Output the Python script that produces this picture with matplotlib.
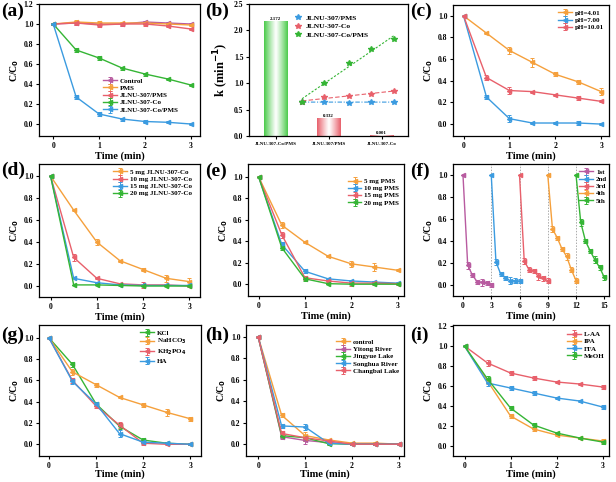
import numpy as np
import matplotlib
matplotlib.use("Agg")
import matplotlib.pyplot as plt
from matplotlib.colors import to_rgb

plt.rcParams['font.family'] = ['Liberation Serif', 'DejaVu Serif']
plt.rcParams['font.weight'] = 'bold'
plt.rcParams['axes.labelweight'] = 'bold'

ORANGE = '#F5A03C'
BLUE = '#3B9BE0'
RED = '#E8606B'
GREEN = '#35B535'
PURPLE = '#B85BA0'

t = [0, 0.5, 1, 1.5, 2, 2.5, 3]

# (a)
a_labels = ['Control', 'PMS', 'JLNU-307/PMS', 'JLNU-307-Co', 'JLNU-307-Co/PMS']
a_control = [1.0, 1.01, 1.00, 1.00, 1.02, 1.01, 1.00]
a_pms = [1.0, 1.02, 1.01, 1.01, 1.01, 1.00, 0.99]
a_307pms = [1.0, 1.01, 0.99, 1.00, 1.00, 0.98, 0.95]
a_307co = [1.0, 0.74, 0.66, 0.56, 0.50, 0.45, 0.39]
a_307copms = [1.0, 0.27, 0.10, 0.05, 0.025, 0.017, 0.0]
a_err = [0.01, 0.02, 0.02, 0.015, 0.015, 0.01, 0.01]

# (b)
b_cats = ['JLNU-307-Co/PMS', 'JLNU-307/PMS', 'JLNU-307-Co']
b_k = [2.172, 0.332, 0.001]
b_klabels = ['2.172', '0.332', '0.001']
b_x = [0.5, 0.92, 1.38, 1.8, 2.23]
b_307pms = [0.65, 0.64, 0.63, 0.64, 0.65]
b_307co = [0.65, 0.73, 0.76, 0.80, 0.85]
b_307copms = [0.65, 1.01, 1.38, 1.64, 1.83]
b_series = ['JLNU-307/PMS', 'JLNU-307-Co', 'JLNU-307-Co/PMS']

# (c)
c_labels = ['pH=4.01', 'pH=7.00', 'pH=10.01']
c_401 = [1.0, 0.84, 0.68, 0.57, 0.46, 0.39, 0.30]
c_700 = [1.0, 0.25, 0.05, 0.01, 0.01, 0.01, 0.0]
c_1001 = [1.0, 0.43, 0.31, 0.30, 0.27, 0.24, 0.21]
c_err401 = [0.0, 0.01, 0.03, 0.04, 0.02, 0.02, 0.03]
c_err700 = [0.0, 0.02, 0.03, 0.01, 0.01, 0.02, 0.01]
c_err1001 = [0.0, 0.02, 0.03, 0.01, 0.01, 0.02, 0.01]

# (d)
d_labels = ['5 mg JLNU-307-Co', '10 mg JLNU-307-Co', '15 mg JLNU-307-Co', '20 mg JLNU-307-Co']
d_5 = [1.0, 0.69, 0.40, 0.23, 0.15, 0.07, 0.04]
d_10 = [1.0, 0.26, 0.07, 0.02, 0.01, 0.01, 0.0]
d_15 = [1.0, 0.07, 0.03, 0.01, 0.005, 0.005, 0.005]
d_20 = [1.0, 0.01, 0.01, 0.005, 0.0, 0.0, 0.0]
d_err5 = [0.0, 0.01, 0.03, 0.01, 0.01, 0.03, 0.03]
d_err10 = [0.0, 0.03, 0.01, 0.01, 0.03, 0.01, 0.01]
d_err15 = [0.0, 0.0, 0.0, 0.0, 0.0, 0.0, 0.0]
d_err20 = [0.0, 0.0, 0.0, 0.0, 0.0, 0.0, 0.0]

# (e)
e_labels = ['5 mg PMS', '10 mg PMS', '15 mg PMS', '20 mg PMS']
e_5 = [1.0, 0.55, 0.39, 0.26, 0.19, 0.16, 0.13]
e_10 = [1.0, 0.37, 0.12, 0.05, 0.03, 0.02, 0.01]
e_15 = [1.0, 0.46, 0.06, 0.03, 0.01, 0.01, 0.005]
e_20 = [1.0, 0.34, 0.05, 0.005, 0.0, 0.0, 0.0]
e_err5 = [0.0, 0.03, 0.01, 0.01, 0.03, 0.04, 0.01]
e_err10 = [0.0, 0.02, 0.02, 0.01, 0.01, 0.01, 0.01]
e_err15 = [0.0, 0.03, 0.02, 0.01, 0.03, 0.02, 0.01]
e_err20 = [0.0, 0.02, 0.02, 0.0, 0.0, 0.0, 0.0]

# (f)
f_labels = ['1st', '2nd', '3rd', '4th', '5th']
f_t1 = [0, 0.5, 1, 1.5, 2, 2.5, 3]
f_t2 = [3, 3.5, 4, 4.5, 5, 5.5, 6]
f_t3 = [6, 6.5, 7, 7.5, 8, 8.5, 9]
f_t4 = [9, 9.5, 10, 10.5, 11, 11.5, 12]
f_t5 = [12, 12.5, 13, 13.5, 14, 14.5, 15]
f_1 = [1.0, 0.18, 0.09, 0.03, 0.025, 0.02, 0.0]
f_2 = [1.0, 0.21, 0.10, 0.065, 0.04, 0.04, 0.035]
f_3 = [1.0, 0.22, 0.14, 0.13, 0.08, 0.06, 0.04]
f_4 = [1.0, 0.51, 0.43, 0.33, 0.26, 0.14, 0.04]
f_5 = [1.0, 0.57, 0.40, 0.31, 0.23, 0.16, 0.07]
f_err = [0.0, 0.03, 0.02, 0.02, 0.03, 0.02, 0.02]
f_cycles = [3, 6, 9, 12]

# (g)
g_labels = ['KCl', 'NaHCO$_3$', 'KH$_2$PO$_4$', 'HA']
g_kcl = [1.0, 0.75, 0.38, 0.17, 0.04, 0.01, 0.0]
g_nahco3 = [1.0, 0.68, 0.56, 0.44, 0.37, 0.30, 0.24]
g_kh2po4 = [1.0, 0.60, 0.36, 0.18, 0.01, 0.0, 0.0]
g_ha = [1.0, 0.59, 0.38, 0.10, 0.02, 0.01, 0.0]
g_err_na = [0.0, 0.03, 0.02, 0.01, 0.02, 0.03, 0.02]
g_err = [0.0, 0.02, 0.02, 0.03, 0.02, 0.01, 0.01]

# (h)
h_labels = ['control', 'Yitong River', 'Jingyue Lake', 'Songhua River', 'Changbai Lake']
h_control = [1.0, 0.27, 0.08, 0.04, 0.01, 0.01, 0.0]
h_yitong = [1.0, 0.07, 0.035, 0.015, 0.0, 0.0, 0.0]
h_jingyue = [1.0, 0.08, 0.06, 0.005, 0.0, 0.0, 0.0]
h_songhua = [1.0, 0.17, 0.16, 0.01, 0.0, 0.0, 0.0]
h_changbai = [1.0, 0.10, 0.06, 0.03, 0.0, 0.0, 0.0]
h_err = [0.0, 0.02, 0.03, 0.01, 0.01, 0.01, 0.0]

# (i)
i_labels = ['L-AA', 'IPA', 'FFA', 'MeOH']
i_laa = [1.0, 0.83, 0.73, 0.68, 0.64, 0.62, 0.59]
i_ipa = [1.0, 0.65, 0.30, 0.17, 0.11, 0.08, 0.05]
i_ffa = [1.0, 0.63, 0.58, 0.53, 0.48, 0.45, 0.39]
i_meoh = [1.0, 0.67, 0.38, 0.21, 0.13, 0.08, 0.04]
i_err = [0.0, 0.03, 0.02, 0.02, 0.01, 0.01, 0.02]

W, H = 616, 482
fig = plt.figure(figsize=(W / 100, H / 100), dpi=100)
fmt1 = matplotlib.ticker.FormatStrFormatter('%.1f')


def add_ax(l, r, top, bot):
    return fig.add_axes([l / W, 1 - bot / H, (r - l) / W, (bot - top) / H])


def style(ax, xlabel='Time (min)', ylabel='C/C$_0$', xpad=1):
    for s in ax.spines.values():
        s.set_linewidth(0.9)
    ax.tick_params(direction='out', length=2.5, width=0.8, labelsize=5.5, pad=1.5)
    for lab in ax.get_xticklabels() + ax.get_yticklabels():
        lab.set_fontweight('bold')
    if xlabel:
        ax.set_xlabel(xlabel, fontsize=7.5, fontweight='bold', labelpad=xpad)
    if ylabel:
        ax.set_ylabel(ylabel, fontsize=7, fontweight='bold', labelpad=2)


def series(ax, x, y, color, label, err=None, marker='<'):
    ax.errorbar(x, y, yerr=err, color=color, lw=1.0, marker=marker, ms=3,
                mec=color, mfc=color, capsize=1.5, elinewidth=0.7, capthick=0.7,
                label=label)


def legend(ax, **kw):
    return ax.legend(frameon=False, prop={'size': 5, 'weight': 'bold'},
                     handlelength=2.0, handletextpad=0.4, labelspacing=0.2,
                     borderaxespad=0.3, **kw)


def panel_label(txt, x, y):
    fig.text(x / W, 1 - y / H, txt, fontsize=14, fontweight='bold', va='top', ha='left')


def time_axes(ax, xlim, ylim, yticks, xpad=1):
    ax.set_xlim(*xlim)
    ax.set_ylim(*ylim)
    ax.set_xticks([0, 1, 2, 3])
    ax.set_yticks(yticks)
    ax.yaxis.set_major_formatter(fmt1)
    style(ax, xpad=xpad)


yt10 = np.arange(0, 1.01, 0.2)
yt12 = np.arange(0, 1.21, 0.2)

# (a)
ax = add_ax(39, 200, 4, 136)
series(ax, t, a_control, PURPLE, a_labels[0], a_err)
series(ax, t, a_pms, ORANGE, a_labels[1], a_err)
series(ax, t, a_307pms, RED, a_labels[2], a_err)
series(ax, t, a_307co, GREEN, a_labels[3], a_err)
series(ax, t, a_307copms, BLUE, a_labels[4], a_err)
time_axes(ax, (-0.31, 3.2), (-0.12, 1.2), yt12)
legend(ax, loc='center left', bbox_to_anchor=(0.38, 0.31), borderpad=0.1)
panel_label('(a)', 1, 3)

# (b)
ax = add_ax(249, 408, 4, 136)
bx = np.arange(len(b_cats))
bw = 0.45
bar_cols = ['#4CCB4C', RED, RED]
ax.bar(bx, b_k, width=bw, color='none', edgecolor='none')
for xi, k, c in zip(bx, b_k, bar_cols):
    n = 64
    v = np.abs(np.linspace(-1, 1, n)) ** 1.1
    rgb = np.array(to_rgb(c))
    img = (1 - v)[:, None] * np.ones(3) + v[:, None] * rgb
    ax.imshow(img[None, :, :], extent=[xi - bw / 2, xi + bw / 2, 0, k], aspect='auto',
              zorder=1, interpolation='bilinear')
for xi, k, s in zip(bx, b_k, b_klabels):
    ax.text(xi, k + 0.01, s, ha='center', va='bottom', fontsize=3.5, fontweight='bold')
for ys, c, lab, ls in zip([b_307pms, b_307co, b_307copms], [BLUE, RED, GREEN], b_series,
                          [(0, (4, 1.5, 1, 1.5)), (0, (4, 2)), (0, (2, 1.5))]):
    ax.plot(b_x, ys, ls='none', marker='*', ms=4, color=c, label=lab, zorder=3)
    p = np.polyfit(b_x, ys, 1)
    xx = np.array([b_x[0], b_x[-1]])
    ax.plot(xx, np.polyval(p, xx), ls=ls, lw=0.8, color=c, zorder=2)
ax.set_xlim(-0.5, 2.5)
ax.set_ylim(0, 2.5)
ax.set_xticks(bx)
ax.set_xticklabels(b_cats)
ax.set_yticks(np.arange(0, 2.51, 0.5))
ax.yaxis.set_major_formatter(fmt1)
style(ax, xlabel=None, ylabel=None)
ax.set_ylabel('k (min$^{-1}$)', fontsize=9, fontweight='bold', labelpad=2)
ax.tick_params(axis='x', labelsize=3.6)
ax.legend(frameon=False, prop={'size': 5.4, 'weight': 'bold'}, loc='upper left',
          bbox_to_anchor=(0.24, 0.97), handlelength=1.0, handletextpad=0.6,
          labelspacing=0.3)
panel_label('(b)', 205, 3)

# (c)
ax = add_ax(453, 609, 5, 136)
series(ax, t, c_401, ORANGE, c_labels[0], c_err401)
series(ax, t, c_700, BLUE, c_labels[1], c_err700)
series(ax, t, c_1001, RED, c_labels[2], c_err1001)
time_axes(ax, (-0.23, 3.17), (-0.11, 1.1), yt10)
legend(ax, loc='upper right')
panel_label('(c)', 410, 3)

# (d)
ax = add_ax(39, 200, 164, 297)
series(ax, t, d_5, ORANGE, d_labels[0], d_err5)
series(ax, t, d_10, RED, d_labels[1], d_err10)
series(ax, t, d_15, BLUE, d_labels[2], d_err15)
series(ax, t, d_20, GREEN, d_labels[3], d_err20)
time_axes(ax, (-0.25, 3.23), (-0.1, 1.11), yt10)
legend(ax, loc='upper right', bbox_to_anchor=(0.98, 1.0))
panel_label('(d)', 1, 162)

# (e)
ax = add_ax(248, 404, 164, 296)
series(ax, t, e_5, ORANGE, e_labels[0], e_err5)
series(ax, t, e_10, BLUE, e_labels[1], e_err10)
series(ax, t, e_15, RED, e_labels[2], e_err15)
series(ax, t, e_20, GREEN, e_labels[3], e_err20)
time_axes(ax, (-0.23, 3.14), (-0.11, 1.12), yt10)
legend(ax, loc='upper right', bbox_to_anchor=(1.0, 0.93))
panel_label('(e)', 205, 163)

# (f)
ax = add_ax(453, 609, 164, 296)
for xc in f_cycles:
    ax.axvline(xc, color='#aaaaaa', ls=(0, (1.5, 1.5)), lw=0.7, zorder=0)
for tt, yy, c, lab in zip([f_t1, f_t2, f_t3, f_t4, f_t5], [f_1, f_2, f_3, f_4, f_5],
                          [PURPLE, BLUE, RED, ORANGE, GREEN], f_labels):
    series(ax, tt, yy, c, lab, f_err)
ax.set_xlim(-1.06, 15.5)
ax.set_ylim(-0.1, 1.1)
ax.set_xticks([0, 3, 6, 9, 12, 15])
ax.set_yticks(yt10)
ax.yaxis.set_major_formatter(fmt1)
style(ax)
legend(ax, loc='upper right', bbox_to_anchor=(1.02, 1.0))
panel_label('(f)', 410, 163)

# (g)
ax = add_ax(39, 201, 325, 456)
series(ax, t, g_kcl, GREEN, g_labels[0], g_err)
series(ax, t, g_nahco3, ORANGE, g_labels[1], g_err_na)
series(ax, t, g_kh2po4, RED, g_labels[2], g_err)
series(ax, t, g_ha, BLUE, g_labels[3], g_err)
time_axes(ax, (-0.21, 3.23), (-0.11, 1.12), yt10, xpad=0)
legend(ax, loc='upper right', bbox_to_anchor=(0.94, 1.0))
panel_label('(g)', 1, 327)

# (h)
ax = add_ax(246, 404, 325, 456)
series(ax, t, h_control, ORANGE, h_labels[0], h_err)
series(ax, t, h_yitong, PURPLE, h_labels[1], h_err)
series(ax, t, h_jingyue, GREEN, h_labels[2], h_err)
series(ax, t, h_songhua, BLUE, h_labels[3], h_err)
series(ax, t, h_changbai, RED, h_labels[4], h_err)
time_axes(ax, (-0.26, 3.11), (-0.11, 1.11), yt10, xpad=0)
legend(ax, loc='upper right', bbox_to_anchor=(1.0, 0.93))
panel_label('(h)', 205, 327)

# (i)
ax = add_ax(453, 609, 325, 456)
series(ax, t, i_laa, RED, i_labels[0], i_err)
series(ax, t, i_ipa, ORANGE, i_labels[1], i_err)
series(ax, t, i_ffa, BLUE, i_labels[2], i_err)
series(ax, t, i_meoh, GREEN, i_labels[3], i_err)
time_axes(ax, (-0.25, 3.14), (-0.1, 1.21), yt12, xpad=0)
legend(ax, loc='upper right', bbox_to_anchor=(1.0, 0.99))
panel_label('(i)', 410, 327)

fig.savefig('out.png', dpi=100)
